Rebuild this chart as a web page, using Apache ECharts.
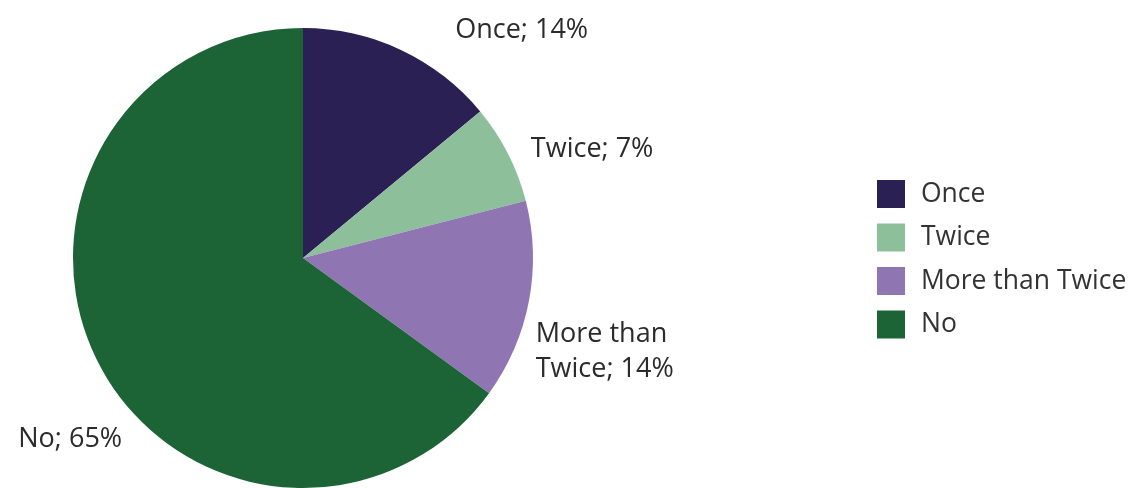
<!DOCTYPE html>
<html>
<head>
<meta charset="utf-8">
<script src="https://cdn.jsdelivr.net/npm/echarts@6/dist/echarts.min.js"></script>
<style>
html,body{margin:0;padding:0;background:#fff;}
#chart{width:1137px;height:488px;}
</style>
</head>
<body>
<div id="chart"></div>
<script>
const categories = ['Once', 'Twice', 'More than Twice', 'No'];
const values = [14, 7, 14, 65];
const labelTexts = ['Once; 14%', 'Twice; 7%', 'More than\nTwice; 14%', 'No; 65%'];

const colors = ['#2a2054', '#8ebf9b', '#9075b3', '#1c6435'];
const labelShift = [[45, -11], [9, 0], [-8, 49], [38, 72]];

const chart = echarts.init(document.getElementById('chart'));
const FONT = '"Open Sans", "Noto Sans", sans-serif';

chart.setOption({
  animation: false,
  color: colors,
  legend: {
    orient: 'vertical',
    left: 872,
    top: 175,
    itemWidth: 28,
    itemHeight: 28,
    itemGap: 15.5,
    icon: 'rect',
    textStyle: { fontFamily: FONT, fontSize: 26.5, color: '#333', padding: [0, 0, 0, 11] },
    data: categories
  },
  series: [{
    type: 'pie',
    center: [303, 258],
    radius: 230,
    startAngle: 90,
    clockwise: true,
    avoidLabelOverlap: false,
    label: {
      show: true,
      position: 'outside',
      alignTo: 'none',
      fontFamily: FONT,
      fontSize: 27,
      lineHeight: 35,
      color: '#2b2b2b',
      formatter: p => labelTexts[p.dataIndex]
    },
    labelLine: { show: false, length: 10, length2: 0 },
    labelLayout: p => ({ dx: labelShift[p.dataIndex][0], dy: labelShift[p.dataIndex][1] }),
    data: categories.map((c, i) => ({ name: c, value: values[i] }))
  }]
});
</script>
</body>
</html>
